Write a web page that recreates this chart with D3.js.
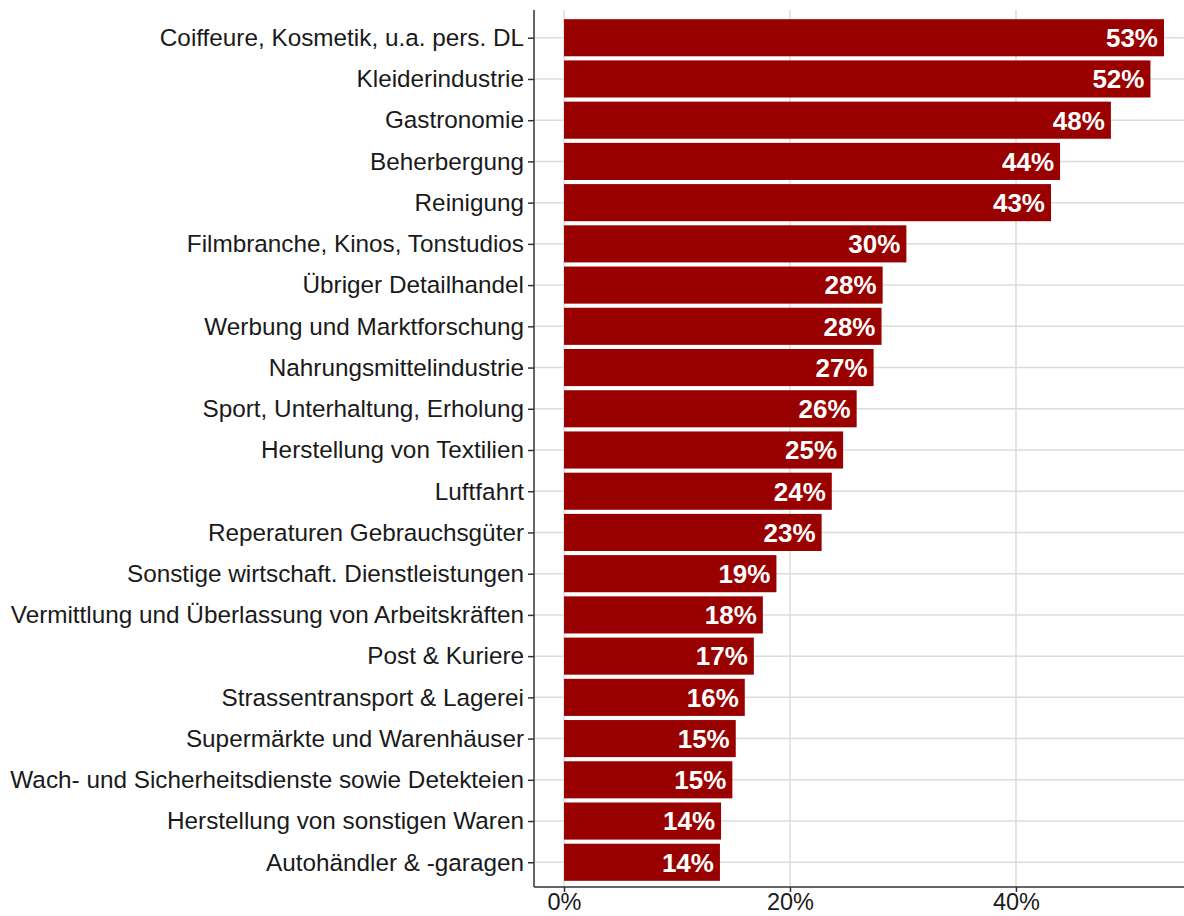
<!DOCTYPE html>
<html><head><meta charset="utf-8">
<script src="https://cdn.jsdelivr.net/npm/d3@7"></script>
<style>body{margin:0;background:#fff}svg{display:block}text{font-family:"Liberation Sans",Arial,sans-serif}</style>
</head><body><svg id="c" width="1184" height="916"></svg>
<script>
const categories = ["Coiffeure, Kosmetik, u.a. pers. DL","Kleiderindustrie","Gastronomie","Beherbergung","Reinigung","Filmbranche, Kinos, Tonstudios","Übriger Detailhandel","Werbung und Marktforschung","Nahrungsmittelindustrie","Sport, Unterhaltung, Erholung","Herstellung von Textilien","Luftfahrt","Reperaturen Gebrauchsgüter","Sonstige wirtschaft. Dienstleistungen","Vermittlung und Überlassung von Arbeitskräften","Post & Kuriere","Strassentransport & Lagerei","Supermärkte und Warenhäuser","Wach- und Sicherheitsdienste sowie Detekteien","Herstellung von sonstigen Waren","Autohändler & -garagen"];
const values = [53.1,51.9,48.4,43.9,43.1,30.3,28.2,28.1,27.4,25.9,24.7,23.7,22.8,18.8,17.6,16.8,16.0,15.2,14.9,13.9,13.8];
const xTicks = [0,20,40];

const svg = d3.select("#c");
const L = 534, R = 1194, T = 13, B = 887;
const maxV = d3.max(values), pad = maxV*0.05;
const x = d3.scaleLinear().domain([-pad, maxV+pad]).range([L, R]);
const step = (B-T)/(categories.length - 1 + 1.2);
const y = d3.scalePoint().domain(categories).range([T+0.6*step, B-0.6*step]);
const bh = step*0.9;

const g = svg.append("g");
g.selectAll(".hg").data(categories).enter().append("line")
  .attr("x1",L).attr("x2",R).attr("y1",d=>y(d)).attr("y2",d=>y(d))
  .attr("stroke","#dcdcdc").attr("stroke-width",1.5);
g.selectAll(".vg").data(xTicks).enter().append("line")
  .attr("x1",d=>x(d)).attr("x2",d=>x(d)).attr("y1",T-3).attr("y2",B)
  .attr("stroke","#dcdcdc").attr("stroke-width",1.5);
g.selectAll(".bar").data(values).enter().append("rect")
  .attr("x",x(0)).attr("y",(d,i)=>y(categories[i])-bh/2)
  .attr("width",d=>x(d)-x(0)).attr("height",bh)
  .attr("fill","#990000");
g.selectAll(".lab").data(values).enter().append("text")
  .attr("x",d=>x(d)-6).attr("y",(d,i)=>y(categories[i]))
  .attr("dy","0.36em").attr("text-anchor","end")
  .attr("fill","#fff").attr("font-weight","bold").attr("font-size",26)
  .text(d=>Math.round(d)+"%");
const ya = d3.axisLeft(y).tickSize(6).tickPadding(4);
const yg = svg.append("g").attr("transform",`translate(${L},0)`).call(ya);
yg.select(".domain").attr("d",`M0,${T-3}V${B}`).attr("stroke","#333").attr("stroke-width",1.5);
yg.selectAll(".tick line").attr("stroke","#333").attr("stroke-width",1.5);
yg.selectAll(".tick text").attr("font-size",24.3).attr("fill","#1a1a1a").attr("font-family","Liberation Sans, Arial, sans-serif");

const xa = d3.axisBottom(x).tickValues(xTicks).tickFormat(d=>d+"%").tickSize(5).tickPadding(1);
const xg = svg.append("g").attr("transform",`translate(0,${B})`).call(xa);
xg.select(".domain").attr("d",`M${L},0H${R}`).attr("stroke","#333").attr("stroke-width",1.5);
xg.selectAll(".tick line").attr("stroke","#333").attr("stroke-width",1.5);
xg.selectAll(".tick text").attr("font-size",23.5).attr("fill","#1a1a1a").attr("font-family","Liberation Sans, Arial, sans-serif");
</script></body></html>
